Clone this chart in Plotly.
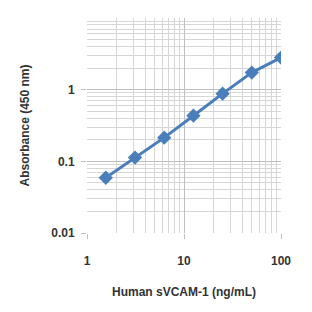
import plotly.graph_objects as go

concentration = [1.5625, 3.125, 6.25, 12.5, 25, 50, 100]
absorbance = [0.059, 0.113, 0.214, 0.433, 0.88, 1.73, 2.8]
x_tick_vals = [1, 10, 100]
x_tick_text = ["1", "10", "100"]
y_tick_vals = [0.01, 0.1, 1]
y_tick_text = ["0.01", "0.1", "1"]

fig = go.Figure()
fig.add_trace(go.Scatter(
    x=concentration, y=absorbance, mode="lines+markers",
    line=dict(color="#4A7EBB", width=3),
    marker=dict(symbol="diamond", size=11, color="#4A7EBB"),
    showlegend=False,
))

bold = dict(family="Liberation Sans, Arial, sans-serif", size=12, color="#333333", weight="bold")
fig.update_layout(
    width=312, height=312,
    margin=dict(l=87, r=31, t=18, b=79),
    paper_bgcolor="white", plot_bgcolor="white",
    font=bold,
)
fig.update_xaxes(
    type="log", range=[0, 2],
    tickvals=x_tick_vals, ticktext=x_tick_text,
    tickfont=bold, ticklabelstandoff=12,
    showgrid=True, gridcolor="#BFBFBF", gridwidth=1,
    minor=dict(dtick="D1", showgrid=True, gridcolor="#D6D6D6", gridwidth=1, ticks=""),
    ticks="outside", ticklen=5, tickcolor="#BFBFBF",
    showline=False, zeroline=False,
    title=dict(text="Human sVCAM-1 (ng/mL)", standoff=20, font=bold),
)
fig.update_yaxes(
    type="log", range=[-2, 1],
    tickvals=y_tick_vals, ticktext=y_tick_text,
    tickfont=bold, ticklabelstandoff=4,
    showgrid=True, gridcolor="#BFBFBF", gridwidth=1,
    minor=dict(dtick="D1", showgrid=True, gridcolor="#D6D6D6", gridwidth=1, ticks=""),
    ticks="outside", ticklen=5, tickcolor="#BFBFBF",
    showline=False, zeroline=False,
    title=dict(text="Absorbance (450 nm)", standoff=19, font=bold),
)

fig.write_html("out.html")
